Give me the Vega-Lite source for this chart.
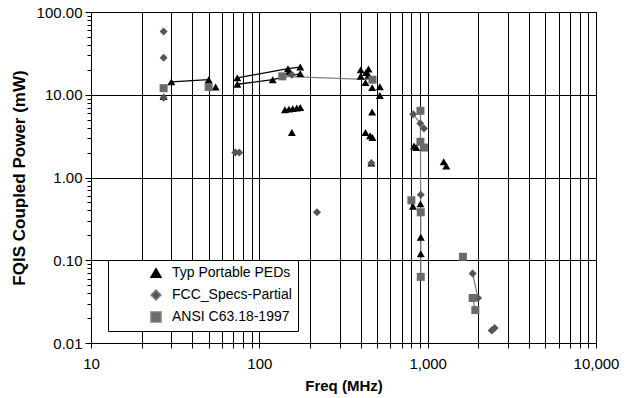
{
  "$schema": "https://vega.github.io/schema/vega-lite/v6.json",
  "width": 505,
  "height": 331,
  "autosize": "none",
  "padding": {"left": 91, "top": 12, "right": 36, "bottom": 55},
  "background": "white",
  "config": {
    "font": "Liberation Sans",
    "view": {"stroke": "#000", "strokeWidth": 1},
    "axis": {
      "gridColor": "#000", "gridWidth": 1,
      "tickColor": "#000", "domainColor": "#000", "tickSize": 5,
      "labelColor": "#000", "labelFontSize": 15, "titleColor": "#000",
      "titleFontSize": 15, "titleFontWeight": "bold", "labelOverlap": false, "labelFlush": false
    },
    "legend": {
      "title": null, "orient": "none", "legendX": 17, "legendY": 248,
      "fillColor": "white", "strokeColor": "#000", "padding": 6,
      "symbolSize": 100, "symbolOffset": 35, "labelOffset": 9, "labelFontSize": 14, "labelColor": "#000", "rowPadding": 6,
      "symbolOpacity": 1
    }
  },
  "data": {"values": [
    {"series": "Typ Portable PEDs", "freq": 27, "power": 9.5},
    {"series": "Typ Portable PEDs", "freq": 30, "power": 14.3, "seg": "t1"},
    {"series": "Typ Portable PEDs", "freq": 50, "power": 15.2, "seg": "t1"},
    {"series": "Typ Portable PEDs", "freq": 55, "power": 12.4},
    {"series": "Typ Portable PEDs", "freq": 74, "power": 16.0, "seg": "t2"},
    {"series": "Typ Portable PEDs", "freq": 148, "power": 20.7, "seg": "t2"},
    {"series": "Typ Portable PEDs", "freq": 175, "power": 21.6, "seg": "t2"},
    {"series": "Typ Portable PEDs", "freq": 74, "power": 13.4, "seg": "t3"},
    {"series": "Typ Portable PEDs", "freq": 120, "power": 15.2, "seg": "t3"},
    {"series": "Typ Portable PEDs", "freq": 175, "power": 18.0, "seg": "t3"},
    {"series": "Typ Portable PEDs", "freq": 150, "power": 19.0},
    {"series": "Typ Portable PEDs", "freq": 142, "power": 6.6},
    {"series": "Typ Portable PEDs", "freq": 150, "power": 6.7},
    {"series": "Typ Portable PEDs", "freq": 158, "power": 6.8},
    {"series": "Typ Portable PEDs", "freq": 167, "power": 6.9},
    {"series": "Typ Portable PEDs", "freq": 175, "power": 7.0},
    {"series": "Typ Portable PEDs", "freq": 156, "power": 3.5},
    {"series": "Typ Portable PEDs", "freq": 400, "power": 20.0},
    {"series": "Typ Portable PEDs", "freq": 445, "power": 20.5},
    {"series": "Typ Portable PEDs", "freq": 400, "power": 16.7},
    {"series": "Typ Portable PEDs", "freq": 445, "power": 17.2},
    {"series": "Typ Portable PEDs", "freq": 430, "power": 18.5},
    {"series": "Typ Portable PEDs", "freq": 427, "power": 14.0},
    {"series": "Typ Portable PEDs", "freq": 468, "power": 12.2},
    {"series": "Typ Portable PEDs", "freq": 520, "power": 12.5},
    {"series": "Typ Portable PEDs", "freq": 520, "power": 9.8},
    {"series": "Typ Portable PEDs", "freq": 468, "power": 6.2},
    {"series": "Typ Portable PEDs", "freq": 427, "power": 3.5},
    {"series": "Typ Portable PEDs", "freq": 455, "power": 3.2},
    {"series": "Typ Portable PEDs", "freq": 470, "power": 3.05},
    {"series": "Typ Portable PEDs", "freq": 463, "power": 1.5},
    {"series": "Typ Portable PEDs", "freq": 830, "power": 2.4},
    {"series": "Typ Portable PEDs", "freq": 855, "power": 2.3},
    {"series": "Typ Portable PEDs", "freq": 1245, "power": 1.55},
    {"series": "Typ Portable PEDs", "freq": 1290, "power": 1.38},
    {"series": "Typ Portable PEDs", "freq": 818, "power": 0.45},
    {"series": "Typ Portable PEDs", "freq": 906, "power": 0.48},
    {"series": "Typ Portable PEDs", "freq": 910, "power": 0.19},
    {"series": "Typ Portable PEDs", "freq": 910, "power": 0.12},
    {"series": "FCC_Specs-Partial", "freq": 27, "power": 58},
    {"series": "FCC_Specs-Partial", "freq": 27, "power": 28},
    {"series": "FCC_Specs-Partial", "freq": 27, "power": 9.2},
    {"series": "FCC_Specs-Partial", "freq": 72, "power": 2.0, "seg": "f1"},
    {"series": "FCC_Specs-Partial", "freq": 76, "power": 2.0, "seg": "f1"},
    {"series": "FCC_Specs-Partial", "freq": 156, "power": 17.5},
    {"series": "FCC_Specs-Partial", "freq": 220, "power": 0.38},
    {"series": "FCC_Specs-Partial", "freq": 463, "power": 1.5},
    {"series": "FCC_Specs-Partial", "freq": 820, "power": 5.8, "seg": "f2"},
    {"series": "FCC_Specs-Partial", "freq": 905, "power": 4.5, "seg": "f2"},
    {"series": "FCC_Specs-Partial", "freq": 950, "power": 3.9, "seg": "f2"},
    {"series": "FCC_Specs-Partial", "freq": 910, "power": 0.62},
    {"series": "FCC_Specs-Partial", "freq": 1850, "power": 0.069, "seg": "f3"},
    {"series": "FCC_Specs-Partial", "freq": 1990, "power": 0.035, "seg": "f3"},
    {"series": "FCC_Specs-Partial", "freq": 2400, "power": 0.0142},
    {"series": "FCC_Specs-Partial", "freq": 2500, "power": 0.0152},
    {"series": "ANSI C63.18-1997", "freq": 27, "power": 12},
    {"series": "ANSI C63.18-1997", "freq": 50, "power": 12.4},
    {"series": "ANSI C63.18-1997", "freq": 137, "power": 16.7, "seg": "a1"},
    {"series": "ANSI C63.18-1997", "freq": 470, "power": 15.2, "seg": "a1"},
    {"series": "ANSI C63.18-1997", "freq": 906, "power": 6.4, "seg": "a2"},
    {"series": "ANSI C63.18-1997", "freq": 906, "power": 2.7, "seg": "a2"},
    {"series": "ANSI C63.18-1997", "freq": 910, "power": 0.38, "seg": "a2"},
    {"series": "ANSI C63.18-1997", "freq": 910, "power": 0.063, "seg": "a2"},
    {"series": "ANSI C63.18-1997", "freq": 950, "power": 2.3},
    {"series": "ANSI C63.18-1997", "freq": 800, "power": 0.53},
    {"series": "ANSI C63.18-1997", "freq": 1620, "power": 0.11},
    {"series": "ANSI C63.18-1997", "freq": 1850, "power": 0.035, "seg": "a3"},
    {"series": "ANSI C63.18-1997", "freq": 1920, "power": 0.025, "seg": "a3"}
  ]},
  "encoding": {
    "x": {"field": "freq", "type": "quantitative", "scale": {"type": "log", "domain": [10, 10000]},
      "axis": {"title": "Freq (MHz)", "values": [10,20,30,40,50,60,70,80,90,100,200,300,400,500,600,700,800,900,1000,2000,3000,4000,5000,6000,7000,8000,9000,10000],
        "labelExpr": "indexof([10,100,1000,10000], datum.value) >= 0 ? format(datum.value, ',') : ''", "grid": true, "labelPadding": 8, "titlePadding": 7}},
    "y": {"field": "power", "type": "quantitative", "scale": {"type": "log", "domain": [0.01, 100]},
      "axis": {"title": "FQIS Coupled Power (mW)", "titleFontSize": 17,
        "values": [0.01,0.02,0.03,0.04,0.05,0.06,0.07,0.08,0.09,0.1,0.2,0.3,0.4,0.5,0.6,0.7,0.8,0.9,1,2,3,4,5,6,7,8,9,10,20,30,40,50,60,70,80,90,100],
        "labelExpr": "indexof([0.01,0.1,1,10,100], datum.value) >= 0 ? format(datum.value, '.2f') : ''",
        "grid": true,
        "gridOpacity": {"condition": {"test": "indexof([0.01,0.1,1,10,100], datum.value) >= 0", "value": 1}, "value": 0},
        "tickSize": {"condition": {"test": "indexof([0.01,0.1,1,10,100], datum.value) >= 0", "value": 6}, "value": 4},
        "labelPadding": 3, "titlePadding": 8}}
  },
  "layer": [
    {
      "transform": [{"filter": "datum.seg != null"}],
      "mark": {"type": "line", "strokeWidth": 1.3},
      "encoding": {
        "detail": {"field": "seg"},
        "order": {"field": "power", "sort": "descending"},
        "stroke": {"field": "series", "type": "nominal", "scale": {"domain": ["Typ Portable PEDs", "FCC_Specs-Partial", "ANSI C63.18-1997"], "range": ["#000000", "#808080", "#808080"]}}
      }
    },
    {
      "mark": {"type": "point", "filled": true, "size": 64, "opacity": 1},
      "encoding": {
        "color": {"field": "series", "type": "nominal", "scale": {"domain": ["Typ Portable PEDs", "FCC_Specs-Partial", "ANSI C63.18-1997"], "range": ["#000000", "#555555", "#6a6a6a"]}},
        "shape": {"field": "series", "type": "nominal", "scale": {"domain": ["Typ Portable PEDs", "FCC_Specs-Partial", "ANSI C63.18-1997"], "range": ["triangle-up", "diamond", "square"]},
          "legend": {"labelExpr": "datum.label + '        '",
            "encode": {"symbols": {
              "shape": {"condition": [
                {"test": "datum.value == 'Typ Portable PEDs'", "value": "M-3,0H3M0,-0.85L0.95,0.75L-0.95,0.75Z"},
                {"test": "datum.value == 'FCC_Specs-Partial'", "value": "M-3,0H3M-0.85,0L0,-0.85L0.85,0L0,0.85Z"}],
                "value": "M-3,0H3M-0.8,-0.8H0.8V0.8H-0.8Z"},
              "stroke": {"condition": {"test": "datum.value == 'Typ Portable PEDs'", "value": "#000000"}, "value": "#808080"},
              "strokeWidth": {"value": 1.3}
            }}}}
      }
    }
  ]
}
